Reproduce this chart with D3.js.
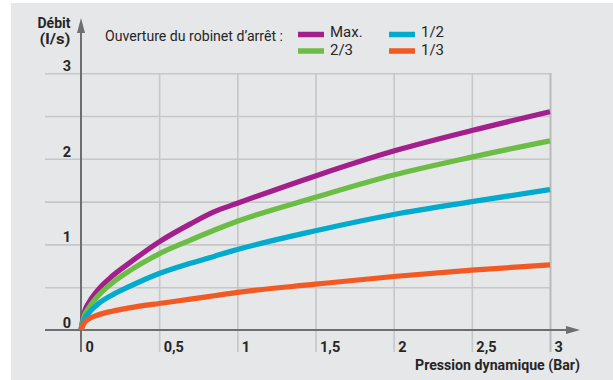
<!DOCTYPE html>
<html><head><meta charset="utf-8">
<script src="https://cdn.jsdelivr.net/npm/d3@7"></script>
<style>
html,body{margin:0;padding:0;background:#fff;}
text{font-family:Roboto,"Liberation Sans",sans-serif;fill:#262626;}
</style></head>
<body><svg id="c" width="613" height="380"></svg>
<script>
const pressure = [0, 0.02, 0.05, 0.1, 0.2, 0.3, 0.5, 0.7, 0.85, 1, 1.5, 2, 2.5, 3];
const maxOpen  = [0, 0.20, 0.32, 0.45, 0.63, 0.77, 1.03, 1.24, 1.38, 1.48, 1.80, 2.09, 2.33, 2.55];
const twoThird = [0, 0.16, 0.26, 0.38, 0.55, 0.68, 0.89, 1.05, 1.165, 1.27, 1.55, 1.81, 2.02, 2.21];
const half     = [0, 0.12, 0.20, 0.29, 0.41, 0.50, 0.66, 0.78, 0.86, 0.94, 1.16, 1.35, 1.50, 1.64];
const third    = [0, 0.08, 0.13, 0.17, 0.22, 0.255, 0.31, 0.36, 0.40, 0.44, 0.535, 0.625, 0.70, 0.76];
const seriesNames = ["Max.", "2/3", "1/2", "1/3"];
const seriesColors = ["#a3208c", "#6cbd45", "#00abcd", "#f15a22"];
const xTicks = [0, 0.5, 1, 1.5, 2, 2.5, 3];
const yTicks = [0, 1, 2, 3];
const yGrid = [0.5, 1, 1.5, 2, 2.5, 3];
const legendTitle = "Ouverture du robinet d’arrêt :";
const xTitle = "Pression dynamique (Bar)";
const yTitle = ["Débit", "(l/s)"];

const svg = d3.select("#c");
svg.append("rect").attr("x",11).attr("y",3).attr("width",602).attr("height",377).attr("fill","#e6e7e8");

const x = d3.scaleLinear().domain([0,3]).range([81,550]);
const y = d3.scaleLinear().domain([0,3]).range([330,73.2]);
const fmt = d => String(d).replace(".", ",");

// horizontal grid
const gy = svg.append("g").attr("transform","translate(550,0)")
  .call(d3.axisLeft(y).tickValues(yGrid).tickSize(505).tickFormat(""));
gy.select(".domain").remove();
gy.selectAll("line").attr("stroke","#c6c7c9").attr("stroke-width",1.6);

// vertical grid (extending below axis as ticks)
const gx = svg.append("g").attr("transform","translate(0,352)")
  .call(d3.axisTop(x).tickValues(xTicks.slice(1)).tickSize(279).tickFormat(""));
gx.select(".domain").remove();
gx.selectAll("line").attr("stroke","#c6c7c9").attr("stroke-width",1.6);
gx.selectAll(".tick").filter(d => d === 3).select("line").attr("stroke","#b9babc").attr("stroke-width",2);

// axes lines
svg.append("line").attr("x1",45).attr("x2",568).attr("y1",y(0)).attr("y2",y(0)).attr("stroke","#6d6e71").attr("stroke-width",2);
svg.append("path").attr("d",`M580,${y(0)} L566,${y(0)-4} L566,${y(0)+4} Z`).attr("fill","#6d6e71");
svg.append("line").attr("x1",x(0)).attr("x2",x(0)).attr("y1",352).attr("y2",31).attr("stroke","#6d6e71").attr("stroke-width",2);
svg.append("path").attr("d",`M${x(0)},18 L${x(0)-4},33 L${x(0)+4},33 Z`).attr("fill","#6d6e71");

// x tick labels
const xl = svg.append("g").attr("transform","translate(0,352)")
  .call(d3.axisBottom(x).tickValues(xTicks).tickSize(0).tickFormat(fmt));
xl.select(".domain").remove();
xl.selectAll("text").attr("y",0).attr("dy",0).attr("x",4).attr("text-anchor","start")
  .style("font-family","Roboto").style("font-size","14.5px").style("font-weight","bold").attr("fill","#262626");

// y tick labels
const yl = svg.append("g").attr("transform","translate(71,0)")
  .call(d3.axisLeft(y).tickValues(yTicks).tickSize(0).tickFormat(fmt));
yl.select(".domain").remove();
yl.selectAll("text").attr("x",0).attr("dy",0).attr("y",-2.5).attr("text-anchor","end")
  .style("font-family","Roboto").style("font-size","14.5px").style("font-weight","bold").attr("fill","#262626");

// titles
svg.append("text").attr("x",580).attr("y",369.5).attr("text-anchor","end")
  .style("font-size","15.5px").style("font-weight","bold").attr("textLength",165).attr("lengthAdjust","spacingAndGlyphs").text(xTitle);
svg.append("text").attr("x",70.5).attr("y",27.5).attr("text-anchor","end")
  .style("font-size","14px").style("font-weight","bold").attr("textLength",33).attr("lengthAdjust","spacingAndGlyphs").text(yTitle[0]);
svg.append("text").attr("x",70.5).attr("y",43.5).attr("text-anchor","end")
  .style("font-size","14px").style("font-weight","bold").attr("textLength",31).attr("lengthAdjust","spacingAndGlyphs").text(yTitle[1]);

// legend
svg.append("text").attr("x",105).attr("y",40.5)
  .style("font-size","15.5px").attr("textLength",178).attr("lengthAdjust","spacingAndGlyphs").text(legendTitle);
const legPos = [[298,34.5],[298,51],[389,34.5],[389,51]];
seriesNames.forEach((n,i)=>{
  const [lx,ly] = legPos[i];
  svg.append("rect").attr("x",lx).attr("y",ly-2.75).attr("width",26).attr("height",5.5).attr("fill",seriesColors[i]);
  svg.append("text").attr("x",lx+32).attr("y", i % 2 === 0 ? 37.2 : 54.8).style("font-size","15px").text(n);
});

// lines
const line = d3.line().x(d=>x(d[0])).y(d=>y(d[1])).curve(d3.curveMonotoneX);
[maxOpen, twoThird, half, third].forEach((vals,i)=>{
  svg.append("path").datum(pressure.map((p,k)=>[p, vals[k]]))
    .attr("d", line).attr("fill","none").attr("stroke",seriesColors[i]).attr("stroke-width",5.2)
    .attr("stroke-linecap","butt").attr("stroke-linejoin","round");
});
</script></body></html>
